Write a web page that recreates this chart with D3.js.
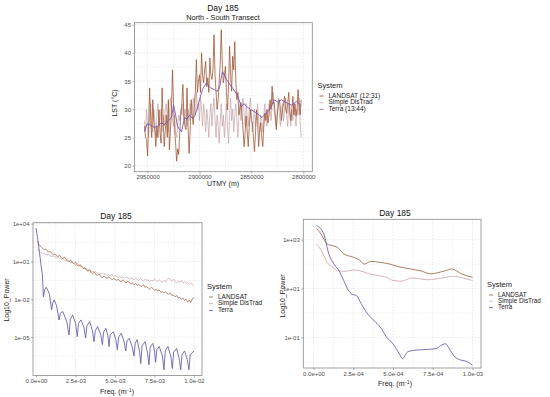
<!DOCTYPE html>
<html><head><meta charset="utf-8">
<script src="https://cdn.jsdelivr.net/npm/d3@7"></script>
<style>body{margin:0;background:#fff}svg{display:block;font-family:"Liberation Sans",Arial,sans-serif}</style>
</head><body>
<svg id="c" width="550" height="397"></svg>
<script>
// ---------- DATA ----------
const systems = ["LANDSAT (12:31)", "Simple DisTrad", "Terra (13:44)"];
const systemsShort = ["LANDSAT", "Simple DisTrad", "Terra"];
const colors = ["#93603f", "#c9a3a6", "#5552a0"];
const topColors = ["#9a4f2e", "#c4a2a4", "#7d55b0"];

// Top: North-South transect, UTMY in km (descending), LST °C
const transectStartKm = 2953, transectEndKm = 2802;
const landsatLST = [27,25,24.6,21.7,27,33.8,28,25,31.7,28,
 26,23.4,27,25,29.9,26,24,33.8,28,23.4,
 26,29,25,31.7,22.8,26,30,37,31,26.4,
 24,20.8,23,22,25.8,29,31,34.4,29,27,
 26.4,33.8,27,22.2,26,31.7,29,27.3,31,33,
 38.8,33,35,36.1,33,40,36,34.7,37,38.5,
 34,35.6,33,39.1,36,35.3,37,43.2,36,33,
 30,31.7,35,37.9,44.1,38,34.7,36,37.6,33,
 29.9,34,41.2,36,33.2,39.4,37,42,35,31.7,
 33,29,30,31.2,29,26.4,23.4,26,28.8,26,
 23.4,27,29.9,28,27.6,25,22.5,26,29.9,28,
 23.4,26,27.6,25,23.4,27,29.3,28,30,27.6,
 29,31.7,30,34.1,31,31.2,29,26.4,29,31,
 31.7,30,28,29.9,31,32.3,30,29.3,31,33,
 30,28,30,32.3,29,31,28.8,30,33.5,30.8,
 29,31.7];
const simpleLST = [28,26,30,27,25,29,31,27,26,30,
 28,25,29,31,27,28,30,26,29,27,
 30,31,28,26,29,32,30,28,27,29,
 26,25,27,29,28,30,29,31,28,30,
 29,27,30,28,31,29,30,32,31,29,
 33,30,31,28,32,30,27,31,29,26,
 30,28,25,29,31,27,30,32,28,25,
 29,27,24,28,31,27,29,25,28,31,
 27,24,29,32,28,30,26,29,31,28,
 25,29,31,28,30,32,29,27,31,29,
 27,30,32,29,26,28,30,27,29,31,
 28,26,29,28,26,29,31,28,27,29,
 31,30,28,31,33,30,28,27,30,32,
 29,27,30,31,28,30,32,29,27,31,
 29,27,30,28,31,29,27,30,29,32,
 28,25];
const terraKm = [2953,2950.5,2948,2944,2940.4,2937,2933.7,2930,2926.9,2925,2923,2921.2,2919,2917.3,2914.4,2912,2909.6,2907,2904.8,2902,2900,2897.1,2893.3,2889.5,2885.6,2883,2880.8,2877.9,2874,2871,2868.3,2863.5,2859.6,2857,2854.8,2851,2847.1,2842.3,2840,2837.5,2832.7,2830,2827.9,2824,2821.2,2815.4,2811,2806.7,2801.9];
const terraLST = [26.1,27.4,27.3,26.8,27,27.6,27.3,28,28.5,30.8,29,27,26.4,26,28.5,28.3,29,28.4,28.7,30.2,31.7,33.5,34.7,33.8,33.5,33.2,33.8,36.7,35.3,34.5,33.8,32.5,30.5,31,30.5,30,29.6,29,28.5,29,29.9,30.8,31.7,31.2,31.7,31.1,30.7,31.4,30.6];
const topXTicks = [2950000, 2900000, 2850000, 2800000];
const topYTicks = [20, 25, 30, 35, 40, 45];

// Bottom-left: power spectra, freq 1e-4 .. 1e-2, log10 power
const blFreqStep = 0.0001, blFreqCount = 100;
const blLandsatLog = [2.6,2.3,2.2,2.05,1.95,2.0,1.85,1.75,1.8,1.65,
 1.55,1.6,1.45,1.4,1.5,1.3,1.25,1.35,1.15,1.1,
 1.0,1.1,0.9,0.85,0.95,0.7,0.65,0.75,0.55,0.45,
 0.5,0.3,0.25,0.35,0.1,0.05,0.15,-0.05,-0.1,0.0,
 -0.2,-0.3,-0.15,-0.25,-0.35,-0.2,-0.3,-0.45,-0.35,-0.4,
 -0.5,-0.4,-0.55,-0.6,-0.45,-0.6,-0.7,-0.55,-0.65,-0.8,
 -0.7,-0.85,-0.75,-0.9,-0.8,-0.95,-1.0,-0.85,-1.05,-1.0,
 -1.1,-1.2,-1.05,-1.15,-1.3,-1.2,-1.35,-1.25,-1.45,-1.4,
 -1.5,-1.4,-1.55,-1.6,-1.5,-1.7,-1.65,-1.8,-1.7,-1.9,
 -1.85,-2.0,-1.9,-2.1,-2.0,-2.2,-2.05,-2.25,-1.95,-1.85];
const blSimpleLog = [2.0,1.8,1.7,1.6,1.65,1.55,1.5,1.55,1.45,1.4,
 1.45,1.35,1.3,1.35,1.25,1.2,1.25,1.1,1.05,1.0,
 1.05,0.9,0.95,0.8,0.75,0.85,0.7,0.6,0.65,0.5,
 0.4,0.45,0.3,0.35,0.2,0.25,0.15,0.2,0.05,0.1,
 0.0,0.1,-0.05,0.05,-0.1,-0.05,-0.15,0.0,-0.2,-0.1,
 -0.2,-0.25,-0.15,-0.3,-0.2,-0.35,-0.25,-0.3,-0.4,-0.3,
 -0.35,-0.45,-0.3,-0.4,-0.5,-0.35,-0.45,-0.55,-0.4,-0.5,
 -0.45,-0.6,-0.5,-0.55,-0.4,-0.5,-0.6,-0.45,-0.55,-0.65,
 -0.5,-0.6,-0.45,-0.3,-0.45,-0.55,-0.4,-0.6,-0.7,-0.55,
 -0.65,-0.5,-0.7,-0.6,-0.75,-0.65,-0.8,-0.7,-0.85,-0.9];
const blTerraFreq = [0,0.0001,0.0002,0.0003,0.0004,0.00047,0.00055,0.00065,0.00072,0.00085,0.00099,0.00106,0.00115,0.0013,0.00146,0.00154,0.0017,0.00195,0.00209,0.00217,0.00232,0.0025,0.00261,0.00269,0.00285,0.00303,0.00314,0.00322,0.0034,0.00357,0.00367,0.00375,0.0039,0.0041,0.0042,0.00428,0.00442,0.00455,0.00462,0.0047,0.0049,0.00505,0.00515,0.00523,0.0054,0.00558,0.00568,0.00576,0.0059,0.0061,0.0062,0.00628,0.0064,0.00655,0.00663,0.00671,0.0069,0.00705,0.00715,0.00723,0.0074,0.0075,0.00757,0.00765,0.0078,0.008,0.0081,0.00818,0.00835,0.00853,0.00863,0.00871,0.0089,0.00906,0.00916,0.00924,0.0094,0.00958,0.00968,0.00976,0.01];
const blTerraLog = [3.66,2.9,1.9,0.9,0,-1.8,-1.25,-1.05,-1.2,-1.6,-2.84,-2.3,-2.05,-2.5,-3.64,-3.1,-2.97,-3.8,-4.83,-3.6,-3.24,-3.9,-4.96,-3.9,-3.64,-4.2,-5.07,-4.1,-3.77,-4.5,-5.36,-4.5,-4.17,-4.8,-5.6,-4.6,-4.3,-4.9,-5.75,-4.8,-4.57,-5.2,-6,-5,-4.7,-5.4,-6.1,-5.3,-5.1,-5.8,-6.5,-5.5,-5.2,-6.1,-7.1,-5.7,-5.36,-6.2,-7.2,-5.8,-5.5,-6.1,-7,-6,-5.75,-6.5,-7.6,-6.1,-5.75,-6.5,-7.5,-6.2,-5.9,-6.7,-7.6,-6.4,-6.1,-6.8,-7.6,-6.4,-6.1];
const blXTicks = [0, 0.0025, 0.005, 0.0075, 0.01];
const blYTicks = [1e4, 1e1, 1e-2, 1e-5];

// Bottom-right: smoothed spectra up to 1e-3
const brLandsatFreq = [0.00002,0.00005,0.000086,0.00012,0.00015,0.00019,0.00025,0.00029,0.00032,0.00036,0.00042,0.00048,0.00053,0.00061,0.00067,0.00074,0.00077,0.00083,0.00087,0.00093,0.001];
const brLandsatLog = [3.45,3.2,2.82,2.75,2.69,2.42,2.28,2.16,2.0,2.11,2.07,2.0,1.9,1.8,1.73,1.6,1.63,1.73,1.8,1.6,1.46];
const brSimpleFreq = [0.00002,0.00005,0.000086,0.00012,0.00015,0.0002,0.00025,0.00029,0.00035,0.00041,0.00046,0.0005,0.00055,0.00062,0.00072,0.00081,0.00088,0.00094,0.001];
const brSimpleLog = [2.82,2.55,2.07,1.87,1.73,1.7,1.76,1.73,1.6,1.53,1.46,1.33,1.3,1.43,1.36,1.43,1.5,1.43,1.33];
const brTerraFreq = [0.00002,0.000065,0.000096,0.000128,0.00016,0.00019,0.00022,0.00024,0.00027,0.0003,0.00034,0.00038,0.00042,0.00046,0.0005,0.00054,0.00056,0.00059,0.00063,0.00069,0.00077,0.0008,0.00083,0.00086,0.00089,0.00092,0.00097,0.001];
const brTerraLog = [3.57,3.23,2.42,2.0,1.73,1.33,0.92,0.78,0.71,0.38,-0.03,-0.31,-0.58,-0.99,-1.26,-1.67,-1.87,-1.6,-1.53,-1.5,-1.46,-1.33,-1.26,-1.53,-1.8,-1.91,-2.0,-2.14];
const brXTicks = [0, 0.00025, 0.0005, 0.00075, 0.001];
const brYTicks = [1e3, 1e1, 1e-1];

// ---------- HELPERS ----------
const svg = d3.select("#c");
const pad2 = e => (e < 0 ? "-" : "+") + String(Math.abs(e)).padStart(2, "0");
const fmtSci = d => { if (d === 0) return "0.0e+00"; const e = Math.floor(Math.log10(Math.abs(d)) + 1e-9); return (d / Math.pow(10, e)).toFixed(1) + "e" + pad2(e); };
const fmtLog = d => "1e" + pad2(Math.round(Math.log10(d)));
const GRID = "#d4d4d4", BORDER = "#8a8a8a", TXT = "#4d4d4d";

function panel(o) {
  const g = svg.append("g");
  const {x, y, L, R, T, B} = o;
  const gg = g.append("g").attr("stroke", GRID).attr("stroke-width", 0.5).attr("stroke-dasharray", "1.5,1.5");
  o.xMinor.forEach(v => gg.append("line").attr("x1", x(v)).attr("x2", x(v)).attr("y1", T).attr("y2", B).attr("stroke-width", 0.35));
  o.yMinor.forEach(v => gg.append("line").attr("y1", y(v)).attr("y2", y(v)).attr("x1", L).attr("x2", R).attr("stroke-width", 0.35));
  o.xTicks.forEach(v => gg.append("line").attr("x1", x(v)).attr("x2", x(v)).attr("y1", T).attr("y2", B));
  o.yTicks.forEach(v => gg.append("line").attr("y1", y(v)).attr("y2", y(v)).attr("x1", L).attr("x2", R));
  const clipId = "clip" + Math.random().toString(36).slice(2);
  g.append("clipPath").attr("id", clipId).append("rect").attr("x", L).attr("y", T).attr("width", R - L).attr("height", B - T);
  const lg = g.append("g").attr("clip-path", `url(#${clipId})`);
  o.series.forEach(s => {
    const line = d3.line().x(d => x(d[0])).y(d => y(d[1]));
    if (s.curve) line.curve(s.curve);
    lg.append("path").datum(s.data).attr("fill", "none").attr("stroke", s.color)
      .attr("stroke-width", s.width || 0.7).attr("stroke-linejoin", "round").attr("d", line);
  });
  g.append("rect").attr("x", L).attr("y", T).attr("width", R - L).attr("height", B - T)
    .attr("fill", "none").attr("stroke", BORDER).attr("stroke-width", 0.8);
  const ax = g.append("g").attr("transform", `translate(0,${B})`)
    .call(d3.axisBottom(x).tickValues(o.xTicks).tickFormat(o.xFmt).tickSize(2).tickPadding(1.5));
  const ay = g.append("g").attr("transform", `translate(${L},0)`)
    .call(d3.axisLeft(y).tickValues(o.yTicks).tickFormat(o.yFmt).tickSize(2).tickPadding(1.5));
  [ax, ay].forEach(a => {
    a.select(".domain").remove();
    a.selectAll("line").attr("stroke", "#666").attr("stroke-width", 0.5);
    a.selectAll("text").attr("fill", TXT).attr("font-size", o.tickFont).attr("font-family", "Liberation Sans, Arial, sans-serif");
  });
  return g;
}

function legend(x0, y0, names, cols, dy, fs) {
  const g = svg.append("g");
  g.append("text").attr("x", x0).attr("y", y0).attr("font-size", 7.5).attr("fill", "#222").attr("dominant-baseline", "middle").text("System");
  names.forEach((n, i) => {
    const yy = y0 + 10 + i * dy;
    g.append("line").attr("x1", x0 + 2).attr("x2", x0 + 6).attr("y1", yy).attr("y2", yy).attr("stroke", cols[i]).attr("stroke-width", 0.8);
    g.append("text").attr("x", x0 + 11).attr("y", yy).attr("font-size", fs).attr("fill", "#222").attr("dominant-baseline", "middle").text(n);
  });
}

function freqLabel(cx, cy) {
  const t = svg.append("text").attr("x", cx).attr("y", cy).attr("text-anchor", "middle").attr("font-size", 7).attr("fill", "#222");
  t.append("tspan").text("Freq. (m");
  t.append("tspan").attr("font-size", 4.5).attr("dy", -2.5).text("−1");
  t.append("tspan").attr("dy", 2.5).text(")");
}

// ---------- TOP PANEL ----------
{
  const L = 134.5, R = 312.3, T = 22.7, B = 171.7;
  const x = d3.scaleLinear().domain([2962600, 2791300]).range([L, R]);
  const y = d3.scaleLinear().domain([18.94, 45.35]).range([B, T]);
  const kmIdx = d3.range(transectStartKm, transectEndKm - 1, -1);
  panel({x, y, L, R, T, B,
    xTicks: topXTicks, yTicks: topYTicks,
    xMinor: [2925000, 2875000, 2825000], yMinor: [22.5, 27.5, 32.5, 37.5, 42.5],
    xFmt: d3.format("d"), yFmt: d3.format("d"), tickFont: 6,
    series: [
      {data: kmIdx.map((k, i) => [k * 1000, simpleLST[i]]), color: topColors[1], width: 0.7},
      {data: kmIdx.map((k, i) => [k * 1000, landsatLST[i]]), color: topColors[0], width: 0.75},
      {data: terraKm.map((k, i) => [k * 1000, terraLST[i]]), color: topColors[2], width: 0.9}
    ]});
  svg.append("text").attr("x", 223).attr("y", 11).attr("text-anchor", "middle").attr("font-size", 8.5).attr("fill", "#111").text("Day 185");
  svg.append("text").attr("x", 223).attr("y", 20).attr("text-anchor", "middle").attr("font-size", 7.3).attr("fill", "#111").text("North - South Transect");
  svg.append("text").attr("x", 223).attr("y", 186).attr("text-anchor", "middle").attr("font-size", 7).attr("fill", "#222").text("UTMY (m)");
  svg.append("text").attr("transform", "translate(117,103) rotate(-90)").attr("text-anchor", "middle").attr("font-size", 7).attr("fill", "#222").text("LST (°C)");
  legend(317.5, 86, systems, topColors, 6.7, 6.5);
}

// ---------- BOTTOM-LEFT PANEL ----------
{
  const L = 33, R = 202, T = 222.7, B = 375.5;
  const x = d3.scaleLinear().domain([(L - 36) / 15800, (R - 36) / 15800]).range([L, R]);
  const y = d3.scaleLog().domain([Math.pow(10, -8.05), Math.pow(10, 4.08)]).range([B, T]);
  const fr = d3.range(1, blFreqCount + 1).map(k => k * blFreqStep);
  panel({x, y, L, R, T, B,
    xTicks: blXTicks, yTicks: blYTicks,
    xMinor: [0.00125, 0.00375, 0.00625, 0.00875], yMinor: [Math.pow(10, 2.5), Math.pow(10, -0.5), Math.pow(10, -3.5), Math.pow(10, -6.5)],
    xFmt: fmtSci, yFmt: fmtLog, tickFont: 6,
    series: [
      {data: fr.map((f, i) => [f, Math.pow(10, blSimpleLog[i])]), color: colors[1], width: 0.7},
      {data: fr.map((f, i) => [f, Math.pow(10, blLandsatLog[i])]), color: colors[0], width: 0.7},
      {data: blTerraFreq.map((f, i) => [f, Math.pow(10, blTerraLog[i])]), color: colors[2], width: 0.8}
    ]});
  svg.append("text").attr("x", 116).attr("y", 219).attr("text-anchor", "middle").attr("font-size", 8.5).attr("fill", "#111").text("Day 185");
  freqLabel(117, 394);
  svg.append("text").attr("transform", "translate(9,300) rotate(-90)").attr("text-anchor", "middle").attr("font-size", 7).attr("fill", "#222").text("Log10_Power");
  legend(207, 287, systemsShort, colors, 6.7, 6.5);
}

// ---------- BOTTOM-RIGHT PANEL ----------
{
  const L = 303.3, R = 481, T = 219.3, B = 368;
  const x = d3.scaleLinear().domain([(L - 313.5) / 159000, (R - 313.5) / 159000]).range([L, R]);
  const y = d3.scaleLog().domain([Math.pow(10, -2.25), Math.pow(10, 3.83)]).range([B, T]);
  panel({x, y, L, R, T, B,
    xTicks: brXTicks, yTicks: brYTicks,
    xMinor: [0.000125, 0.000375, 0.000625, 0.000875], yMinor: [1e2, 1e0, 1e-2],
    xFmt: fmtSci, yFmt: fmtLog, tickFont: 6,
    series: [
      {data: brSimpleFreq.map((f, i) => [f, Math.pow(10, brSimpleLog[i])]), color: colors[1], width: 0.8, curve: d3.curveMonotoneX},
      {data: brLandsatFreq.map((f, i) => [f, Math.pow(10, brLandsatLog[i])]), color: colors[0], width: 0.8, curve: d3.curveMonotoneX},
      {data: brTerraFreq.map((f, i) => [f, Math.pow(10, brTerraLog[i])]), color: colors[2], width: 0.8, curve: d3.curveMonotoneX}
    ]});
  svg.append("text").attr("x", 395).attr("y", 216).attr("text-anchor", "middle").attr("font-size", 8.5).attr("fill", "#111").text("Day 185");
  freqLabel(395, 386);
  svg.append("text").attr("transform", "translate(285,296) rotate(-90)").attr("text-anchor", "middle").attr("font-size", 7).attr("fill", "#222").text("Log10_Power");
  legend(487, 285, systemsShort, colors, 6.2, 6.3);
}
</script>
</body></html>
